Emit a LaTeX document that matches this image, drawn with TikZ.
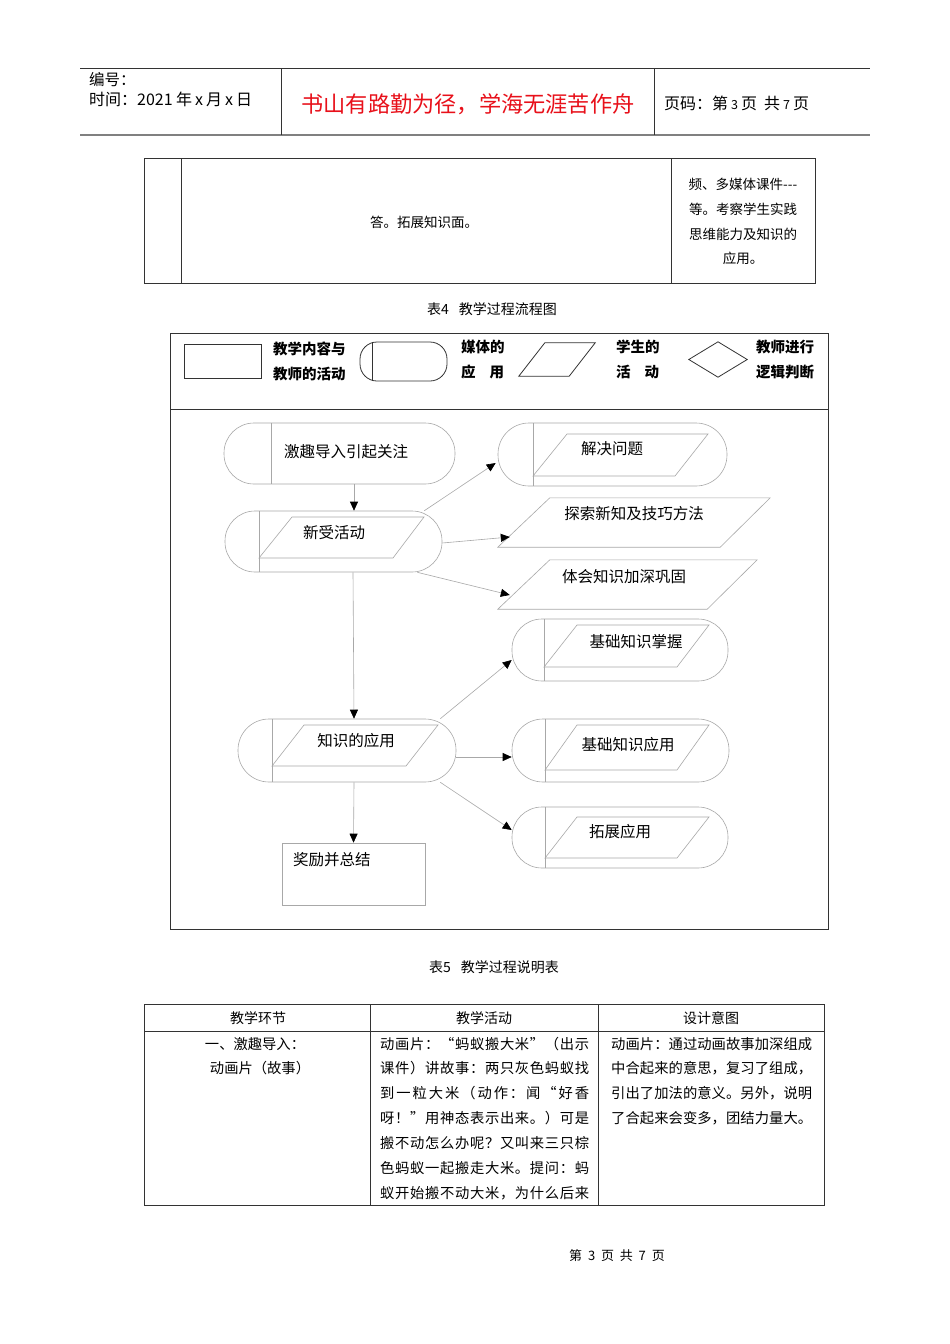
\documentclass[tikz,border=0pt]{standalone}
\usepackage{fontspec}
\setmainfont{Noto Sans CJK SC}
\usetikzlibrary{arrows.meta,calc}
\definecolor{fl}{HTML}{A8A8A8}
\definecolor{dk}{HTML}{333333}
\definecolor{hdred}{HTML}{E8101A}
\def\jxa#1{\ifx\relax#1\else #1\hfill\expandafter\jxa\fi}
\newcommand\jline[2]{\hbox to #1{\jxa#2\relax\unskip}}
\begin{document}
\begin{tikzpicture}[x=1pt,y=-1pt,
  fs/.style={font=\fontsize{#1}{#1}\selectfont},
  txt/.style={inner sep=0pt, text=black},
  stad/.style={draw=fl, line width=0.6pt, rounded corners=30pt, inner sep=0pt},
  flbox/.style={draw=none, inner sep=0pt},
  flline/.style={draw=fl, line width=0.6pt},
  legline/.style={draw=dk, line width=0.8pt},
  arr/.style={draw=fl, line width=0.6pt, -{Triangle[length=9pt,width=8pt,color=black]}},
  tbl/.style={draw=dk, line width=0.8pt}
]
\useasboundingbox[fill=white] (0,0) rectangle (950,1344);

% ---------- header ----------
\draw[draw=dk, line width=1pt] (80,68) -- (870,68);
\draw[draw=gray, line width=2pt] (80,135) -- (870,135);
\draw[draw=dk, line width=0.8pt] (281,68) -- (281,135);
\draw[draw=dk, line width=0.8pt] (654,68) -- (654,135);
\node[txt, fs=15.5, anchor=west] (h1) at (89,80) {编号：};
\node[txt, fs=16, anchor=west] (h2) at (89,99) {时间：2021\hspace{3.5pt}年\hspace{3pt}x\hspace{3pt}月\hspace{3pt}x\hspace{3pt}日};
\node[txt, fs=22.2, text=hdred] (h3) at (468,104) {书山有路勤为径，学海无涯苦作舟};
\node[txt, fs=16, anchor=west] (h4) at (664,103) {页码：第\hspace{3pt}{\fontsize{12.5}{12.5}\selectfont 3}\hspace{3pt}页\hspace{7pt}共\hspace{3pt}{\fontsize{12.5}{12.5}\selectfont 7}\hspace{3pt}页};

% ---------- top table ----------
\draw[tbl] (144,158) rectangle (815,283);
\draw[tbl] (181,158) -- (181,283);
\draw[tbl] (671,158) -- (671,283);
\node[txt, fs=13.5] (t1) at (424,222) {答。拓展知识面。};
\node[txt, fs=13.5] (t2) at (743,184) {频、多媒体课件{-}{-}{-}};
\node[txt, fs=13.5] (t3) at (743,209) {等。考察学生实践};
\node[txt, fs=13.5] (t4) at (743,234) {思维能力及知识的};
\node[txt, fs=13.5] (t5) at (743,258) {应用。};
\node[txt, fs=14] (cap4) at (492,309) {表4\hspace{10pt}教学过程流程图};

% ---------- flowchart frame ----------
\draw[draw=dk, line width=0.8pt] (170,333) rectangle (828,929);
\draw[draw=dk, line width=0.8pt] (170,409) -- (828,409);

% legend
\node[legline, minimum width=77pt, minimum height=34pt, inner sep=0pt] (lg1) at (222.5,361) {};
\node[txt, anchor=west] (lg1a) at (273,349) {\fontsize{14.5}{14.5}\selectfont\bfseries 教学内容与};
\node[txt, anchor=west] (lg1b) at (273,374) {\fontsize{14.5}{14.5}\selectfont\bfseries 教师的活动};
\node[draw=dk, line width=0.8pt, rounded corners=17pt, minimum width=87pt, minimum height=39pt, inner sep=0pt] (lg2) at (403.5,361.5) {};
\draw[legline] (372,342) -- (372,381);
\node[txt, anchor=west] (lg2a) at (461,347) {\fontsize{14.5}{14.5}\selectfont\bfseries 媒体的};
\node[txt, anchor=west] (lg2b) at (461,372) {\fontsize{14.5}{14.5}\selectfont\bfseries 应\hspace{14pt}用};
\node[flbox, minimum width=76pt, minimum height=33pt] (lg3) at (557,359.5) {};
\draw[legline] (lg3.south west) -- ([xshift=26pt]lg3.north west) -- (lg3.north east) -- ([xshift=-26pt]lg3.south east) -- cycle;
\node[txt, anchor=west] (lg3a) at (616,347) {\fontsize{14.5}{14.5}\selectfont\bfseries 学生的};
\node[txt, anchor=west] (lg3b) at (616,372) {\fontsize{14.5}{14.5}\selectfont\bfseries 活\hspace{14pt}动};
\node[flbox, minimum width=58pt, minimum height=35pt] (lg4) at (718,359.5) {};
\draw[legline] (lg4.west) -- (lg4.north) -- (lg4.east) -- (lg4.south) -- cycle;
\node[txt, anchor=west] (lg4a) at (756,347) {\fontsize{14.5}{14.5}\selectfont\bfseries 教师进行};
\node[txt, anchor=west] (lg4b) at (756,372) {\fontsize{14.5}{14.5}\selectfont\bfseries 逻辑判断};

% ---------- flow nodes ----------
% s1
\node[stad, minimum width=231pt, minimum height=61pt] (s1) at (339.5,453.5) {};
\draw[flline] (271,423) -- (271,484);
\node[txt, fs=15.5] (s1t) at (346,452) {激趣导入引起关注};
% s2
\node[stad, minimum width=217pt, minimum height=61pt] (s2) at (333.5,541.5) {};
\draw[flline] (259,511) -- (259,572);
\draw[flline] (259,558) -- (292,517) -- (424,517) -- (393,558) -- cycle;
\node[txt, fs=15.5] (s2t) at (334,533) {新受活动};
% s3
\node[stad, minimum width=229pt, minimum height=63pt, rounded corners=31pt] (s3) at (612.5,454.5) {};
\draw[flline] (533,423) -- (533,486);
\draw[flline] (533,476) -- (567,434) -- (708,434) -- (675,476) -- cycle;
\node[txt, fs=15.5] (s3t) at (612,449) {解决问题};
% p4
\node[flbox, minimum width=272pt, minimum height=49pt] (p4) at (634,522.5) {};
\draw[flline] (p4.south west) -- ([xshift=52pt]p4.north west) -- (p4.north east) -- ([xshift=-50pt]p4.south east) -- cycle;
\node[txt, fs=15.5] (p4t) at (634,514) {探索新知及技巧方法};
% p5
\node[flbox, minimum width=259pt, minimum height=49pt] (p5) at (627.5,584.5) {};
\draw[flline] (p5.south west) -- ([xshift=52pt]p5.north west) -- (p5.north east) -- ([xshift=-50pt]p5.south east) -- cycle;
\node[txt, fs=15.5] (p5t) at (624,577) {体会知识加深巩固};
% s6
\node[stad, minimum width=216pt, minimum height=62pt] (s6) at (620,650) {};
\draw[flline] (544,619) -- (544,681);
\draw[flline] (544,667) -- (577,625) -- (709,625) -- (677,667) -- cycle;
\node[txt, fs=15.5] (s6t) at (636,642) {基础知识掌握};
% s7
\node[stad, minimum width=218pt, minimum height=63pt, rounded corners=31pt] (s7) at (347,750.5) {};
\draw[flline] (272,719) -- (272,782);
\draw[flline] (272,766) -- (304,725) -- (438,725) -- (406,766) -- cycle;
\node[txt, fs=15.5] (s7t) at (356,741) {知识的应用};
% s8
\node[stad, minimum width=217pt, minimum height=63pt, rounded corners=31pt] (s8) at (620.5,750.5) {};
\draw[flline] (545,719) -- (545,782);
\draw[flline] (545,770) -- (577,725) -- (709,725) -- (677,770) -- cycle;
\node[txt, fs=15.5] (s8t) at (628,745) {基础知识应用};
% s9
\node[stad, minimum width=216pt, minimum height=61pt] (s9) at (620,837.5) {};
\draw[flline] (545,807) -- (545,868);
\draw[flline] (545,858) -- (577,817) -- (709,817) -- (677,858) -- cycle;
\node[txt, fs=15.5] (s9t) at (620,832) {拓展应用};
% r10
\node[draw=fl, line width=0.6pt, minimum width=143pt, minimum height=62pt, inner sep=0pt] (r10) at (353.5,874) {};
\node[txt, fs=15.5, anchor=west] (r10t) at (293,860) {奖励并总结};

% ---------- connectors ----------
\draw[arr] ([xshift=14.5pt]s1.south) -- ([xshift=20.5pt]s2.north);
\draw[arr] ([xshift=-18pt]s2.north east) -- ([xshift=-2pt,yshift=-8.5pt]s3.west);
\draw[arr] ([yshift=-1.5pt]s2.east) -- ([xshift=12pt,yshift=-14.5pt]p4.west);
\draw[arr] ([xshift=-25pt]s2.south east) -- ([xshift=12pt,yshift=-10.5pt]p5.west);
\draw[arr] ([xshift=19.5pt]s2.south) -- ([xshift=7pt]s7.north);
\draw[arr] ([xshift=-16pt]s7.north east) -- ([yshift=-10pt]s6.west);
\draw[arr] ([yshift=-6.5pt]s7.east) -- ([yshift=-6.5pt]s8.west);
\draw[arr] ([xshift=-16pt]s7.south east) -- ([yshift=7.5pt]s9.west);
\draw[arr] ([xshift=7pt]s7.south) -- (r10.north);

% ---------- bottom table ----------
\node[txt, fs=14] (cap5) at (494,967) {表5\hspace{10pt}教学过程说明表};
\draw[tbl] (144,1004) rectangle (824,1205);
\draw[tbl] (144,1031) -- (824,1031);
\draw[tbl] (370,1004) -- (370,1205);
\draw[tbl] (598,1004) -- (598,1205);
\node[txt, fs=14] (th1) at (258,1018) {教学环节};
\node[txt, fs=14] (th2) at (484,1018) {教学活动};
\node[txt, fs=14] (th3) at (711,1018) {设计意图};
\node[txt, fs=14.3] (c1a) at (255,1044) {一、激趣导入：};
\node[txt, fs=14.3] (c1b) at (260,1068) {动画片（故事）};
\node[txt, fs=14.3, anchor=west] (c2a) at (380,1044) {\jline{209pt}{动画片：“蚂蚁搬大米”（出示}};
\node[txt, fs=14.3, anchor=west] (c2b) at (380,1068) {\jline{209pt}{课件）讲故事：两只灰色蚂蚁找}};
\node[txt, fs=14.3, anchor=west] (c2c) at (380,1093) {\jline{209pt}{到一粒大米（动作：闻“好香}};
\node[txt, fs=14.3, anchor=west] (c2d) at (380,1118) {\jline{209pt}{呀！”用神态表示出来。）可是}};
\node[txt, fs=14.3, anchor=west] (c2e) at (380,1143) {\jline{209pt}{搬不动怎么办呢？又叫来三只棕}};
\node[txt, fs=14.3, anchor=west] (c2f) at (380,1168) {\jline{209pt}{色蚂蚁一起搬走大米。提问：蚂}};
\node[txt, fs=14.3, anchor=west] (c2g) at (380,1193) {\jline{209pt}{蚁开始搬不动大米，为什么后来}};
\node[txt, fs=14.3, anchor=west] (c3a) at (611,1044) {\jline{201pt}{动画片：通过动画故事加深组成}};
\node[txt, fs=14.3, anchor=west] (c3b) at (611,1068) {\jline{201pt}{中合起来的意思，复习了组成，}};
\node[txt, fs=14.3, anchor=west] (c3c) at (611,1093) {\jline{201pt}{引出了加法的意义。另外，说明}};
\node[txt, fs=14.3, anchor=west] (c3d) at (611,1118) {\jline{201pt}{了合起来会变多，团结力量大。}};

% footer
\node[txt, fs=13] (ft) at (617,1256) {第\ \ 3\ \ 页\ \ 共\ \ 7\ \ 页};
\end{tikzpicture}
\end{document}
